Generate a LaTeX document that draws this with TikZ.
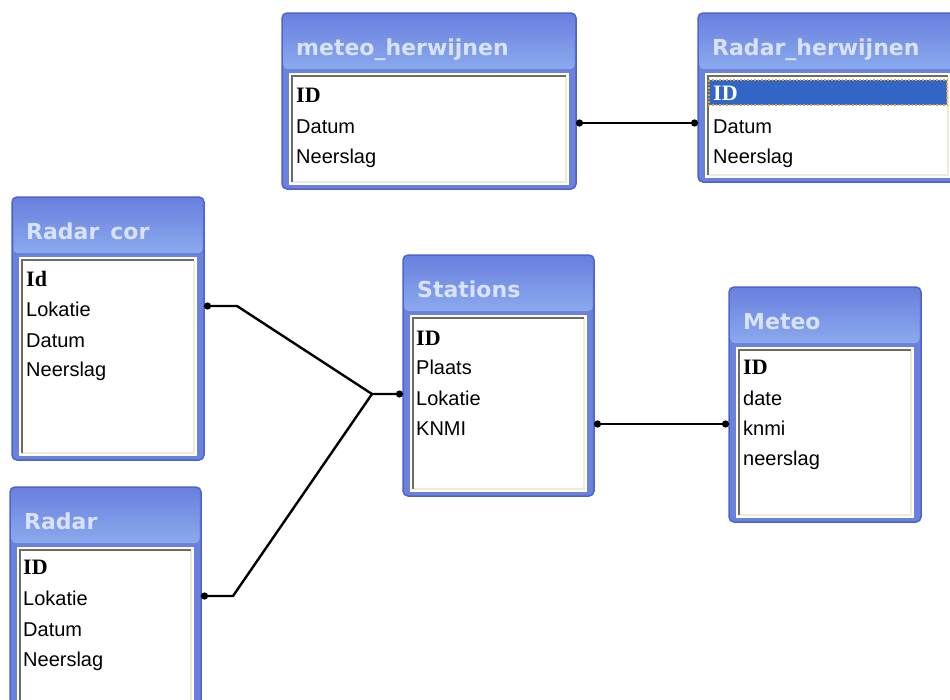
\documentclass[tikz,border=0pt]{standalone}
\usepackage{fontspec}
\setmainfont{Liberation Sans}
\newfontfamily\titlefont{DejaVu Sans}
\newfontfamily\keyfont{Liberation Serif}
\usetikzlibrary{arrows.meta}
\definecolor{frameblue}{HTML}{6A82DC}
\definecolor{bandtop}{HTML}{6A80DE}
\definecolor{bandbot}{HTML}{8AAAEE}
\definecolor{edgeblue}{HTML}{5062CC}
\definecolor{titletext}{HTML}{D8E2F8}
\definecolor{selblue}{HTML}{3166C6}
\definecolor{selorange}{HTML}{E0A040}
\definecolor{innergray}{HTML}{6E6C60}
\definecolor{innerlight}{HTML}{EEEBDD}
\tikzset{
 tbox/.style={draw=edgeblue, line width=1.5pt, fill=frameblue, rounded corners=5pt, inner sep=0pt, outer sep=0pt, anchor=north west},
 ttitle/.style={font=\titlefont\bfseries\fontsize{22}{24}\selectfont, text=titletext, anchor=base west, inner sep=0pt},
 field/.style={font=\fontsize{20}{22}\selectfont, anchor=west, inner sep=0pt, text height=14pt, text depth=0pt},
 keyfield/.style={field, font=\keyfont\bfseries\fontsize{22}{22}\selectfont},
 rel/.style={line width=2.8pt, line join=round, {Circle[length=7pt]}-{Circle[length=7pt]}},
 relhalf/.style={line width=2.4pt, line join=round, {Circle[length=7pt]}-}
}
\newcommand\dbtable[6]{%
 \node[tbox, minimum width={#4-#2}, minimum height={#5-#3}] (#1) at (#2,#3) {};
 \shade[top color=bandtop, bottom color=bandbot, rounded corners=4pt] ({#2+1.5},{#3+1.5}) rectangle ({#4-1.5},{#3+56});
 \fill[white] ({#2+7},{#3+60}) rectangle ({#4-7},{#5-4});
 \draw[line width=1.5pt, color=innerlight] ({#4-10},{#3+63}) -- ({#4-10},{#5-7}) -- ({#2+10},{#5-7});
 \draw[line width=1.5pt, color=innergray] ({#2+10},{#5-7}) -- ({#2+10},{#3+63}) -- ({#4-10},{#3+63});
 \node[ttitle] (#1-t) at ({#2+14},{#3+42}) {#6};
}
\begin{document}
\begin{tikzpicture}[x=1pt,y=-1pt]
\useasboundingbox[fill=white] (0,0) rectangle (950,699);
% meteo_herwijnen
\dbtable{mh}{282}{13}{576}{189}{meteo\_herwijnen}
\node[keyfield] (mh-id) at (296,95) {ID};
\node[field] (mh-datum) at (296,126) {Datum};
\node[field] (mh-neer) at (296,156) {Neerslag};
% Radar_herwijnen
\dbtable{rh}{698}{13}{958}{182}{Radar\_herwijnen}
\fill[selblue] (709,80) rectangle (947,105);
\draw[selorange, dotted, line width=1.5pt] (709,80) rectangle (947,105);
\node[keyfield, text=white] (rh-id) at (713,93) {ID};
\node[field] (rh-datum) at (713,126) {Datum};
\node[field] (rh-neer) at (713,156) {Neerslag};
% Radar cor
\dbtable{rc}{12}{197}{204}{460}{Radar\enspace cor}
\node[keyfield] (rc-id) at (26,279) {Id};
\node[field] (rc-lok) at (26,309) {Lokatie};
\node[field] (rc-datum) at (26,340) {Datum};
\node[field] (rc-neer) at (26,369) {Neerslag};
% Stations
\dbtable{st}{403}{255}{594}{496}{Stations}
\node[keyfield] (st-id) at (416,338) {ID};
\node[field] (st-plaats) at (416,367) {Plaats};
\node[field] (st-lok) at (416,398) {Lokatie};
\node[field] (st-knmi) at (416,428) {KNMI};
% Radar
\dbtable{rd}{10}{487}{201}{712}{Radar}
\node[keyfield] (rd-id) at (23,567) {ID};
\node[field] (rd-lok) at (23,598) {Lokatie};
\node[field] (rd-datum) at (23,629) {Datum};
\node[field] (rd-neer) at (23,659) {Neerslag};
% Meteo
\dbtable{me}{729}{287}{921}{522}{Meteo}
\node[keyfield] (me-id) at (743,367) {ID};
\node[field] (me-date) at (743,398) {date};
\node[field] (me-knmi) at (743,428) {knmi};
\node[field] (me-neer) at (743,458) {neerslag};
% relations
\coordinate (jn) at (372,394);
\draw[rel] ([yshift=3pt]mh.east |- mh-datum) -- ([yshift=3pt]rh.west |- mh-datum);
\draw[rel, line width=2.4pt] ([yshift=3pt]rc.east |- rc-lok) -- ++(33,0) -- (jn) -- (st.west |- jn);
\draw[relhalf] ([yshift=2pt]rd.east |- rd-lok) -- ++(32,0) -- (jn);
\draw[rel] ([yshift=4pt]st.east |- st-knmi) -- ([yshift=4pt]me.west |- st-knmi);
\end{tikzpicture}
\end{document}
